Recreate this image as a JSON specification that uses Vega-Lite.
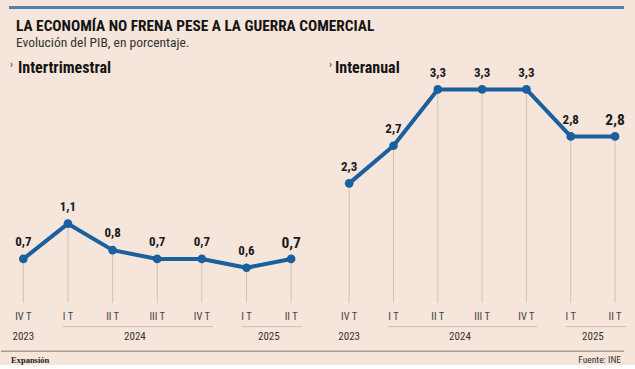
{
  "$schema": "https://vega.github.io/schema/vega-lite/v6.json",
  "background": "#f6e5da",
  "padding": 0,
  "config": {
    "view": {"stroke": null},
    "locale": {"number": {"decimal": ",", "thousands": ".", "grouping": [3], "currency": ["", " €"]}},
    "font": "Roboto Condensed, Roboto",
    "text": {"font": "Roboto Condensed, Roboto"}
  },
  "data": {"values": [
    {"i": 0, "trim": "IV T", "anio": "2023", "inter": 0.7, "anual": 2.3},
    {"i": 1, "trim": "I T", "anio": "2024", "inter": 1.1, "anual": 2.7},
    {"i": 2, "trim": "II T", "anio": "2024", "inter": 0.8, "anual": 3.3},
    {"i": 3, "trim": "III T", "anio": "2024", "inter": 0.7, "anual": 3.3},
    {"i": 4, "trim": "IV T", "anio": "2024", "inter": 0.7, "anual": 3.3},
    {"i": 5, "trim": "I T", "anio": "2025", "inter": 0.6, "anual": 2.8},
    {"i": 6, "trim": "II T", "anio": "2025", "inter": 0.7, "anual": 2.8}
  ]},
  "columns": 2,
  "spacing": {"row": 0, "column": 18},
  "bounds": "flush",
  "concat": [
    {
      "width": 308,
      "height": 80,
      "data": {"values": [{"titulo": "LA ECONOMÍA NO FRENA PESE A LA GUERRA COMERCIAL", "sub": "Evolución del PIB, en porcentaje.", "chev": "›", "panel": "Intertrimestral"}]},
      "layer": [
        {
          "mark": {"type": "rule", "color": "#5280ad", "strokeWidth": 3, "xOffset": 8, "x2Offset": 18},
          "encoding": {
            "x": {"datum": 0, "type": "quantitative", "scale": {"domain": [0, 1]}, "axis": null},
            "x2": {"datum": 1},
            "y": {"datum": "barra", "type": "ordinal", "scale": {"type": "point", "domain": ["barra", "titulo", "sub", "panel"], "padding": 0.4834, "align": 0.3846}, "axis": null}
          }
        },
        {
          "mark": {"type": "text", "align": "left", "baseline": "alphabetic", "dx": 15, "dy": 3, "fontSize": 15.3, "fontWeight": "bold", "color": "#141414"},
          "encoding": {
            "x": {"datum": 0, "type": "quantitative", "scale": {"domain": [0, 1]}, "axis": null},
            "y": {"datum": "titulo", "type": "ordinal", "scale": {"type": "point", "domain": ["barra", "titulo", "sub", "panel"], "padding": 0.4834, "align": 0.3846}, "axis": null},
            "text": {"field": "titulo"}
          }
        },
        {
          "mark": {"type": "text", "align": "left", "baseline": "alphabetic", "dx": 15, "dy": -1, "fontSize": 13.5, "color": "#333333"},
          "encoding": {
            "x": {"datum": 0, "type": "quantitative", "scale": {"domain": [0, 1]}, "axis": null},
            "y": {"datum": "sub", "type": "ordinal", "scale": {"type": "point", "domain": ["barra", "titulo", "sub", "panel"], "padding": 0.4834, "align": 0.3846}, "axis": null},
            "text": {"field": "sub"}
          }
        },
        {
          "mark": {"type": "text", "align": "left", "baseline": "alphabetic", "dx": 9, "dy": 0, "fontSize": 10.5, "fontWeight": "bold", "color": "#3d5f85"},
          "encoding": {
            "x": {"datum": 0, "type": "quantitative", "scale": {"domain": [0, 1]}, "axis": null},
            "y": {"datum": "panel", "type": "ordinal", "scale": {"type": "point", "domain": ["barra", "titulo", "sub", "panel"], "padding": 0.4834, "align": 0.3846}, "axis": null},
            "text": {"field": "chev"}
          }
        },
        {
          "mark": {"type": "text", "align": "left", "baseline": "alphabetic", "dx": 17, "dy": 5, "fontSize": 16, "fontWeight": "bold", "color": "#141414"},
          "encoding": {
            "x": {"datum": 0, "type": "quantitative", "scale": {"domain": [0, 1]}, "axis": null},
            "y": {"datum": "panel", "type": "ordinal", "scale": {"type": "point", "domain": ["barra", "titulo", "sub", "panel"], "padding": 0.4834, "align": 0.3846}, "axis": null},
            "text": {"field": "panel"}
          }
        }
      ]
    },
    {
      "width": 308,
      "height": 80,
      "data": {"values": [{"chev": "›", "panel": "Interanual"}]},
      "layer": [
        {
          "mark": {"type": "rule", "color": "#5280ad", "strokeWidth": 3, "x2Offset": -11},
          "encoding": {
            "x": {"datum": 0, "type": "quantitative", "scale": {"domain": [0, 1]}, "axis": null},
            "x2": {"datum": 1},
            "y": {"datum": "barra", "type": "ordinal", "scale": {"type": "point", "domain": ["barra", "titulo", "sub", "panel"], "padding": 0.4834, "align": 0.3846}, "axis": null}
          }
        },
        {
          "mark": {"type": "text", "align": "left", "baseline": "alphabetic", "dx": 2, "dy": 0, "fontSize": 10.5, "fontWeight": "bold", "color": "#3d5f85"},
          "encoding": {
            "x": {"datum": 0, "type": "quantitative", "scale": {"domain": [0, 1]}, "axis": null},
            "y": {"datum": "panel", "type": "ordinal", "scale": {"type": "point", "domain": ["barra", "titulo", "sub", "panel"], "padding": 0.4834, "align": 0.3846}, "axis": null},
            "text": {"field": "chev"}
          }
        },
        {
          "mark": {"type": "text", "align": "left", "baseline": "alphabetic", "dx": 8, "dy": 5, "fontSize": 16, "fontWeight": "bold", "color": "#141414"},
          "encoding": {
            "x": {"datum": 0, "type": "quantitative", "scale": {"domain": [0, 1]}, "axis": null},
            "y": {"datum": "panel", "type": "ordinal", "scale": {"type": "point", "domain": ["barra", "titulo", "sub", "panel"], "padding": 0.4834, "align": 0.3846}, "axis": null},
            "text": {"field": "panel"}
          }
        }
      ]
    },
    {
      "width": 308,
      "height": 223,
      "layer": [
        {
          "mark": {"type": "rule", "color": "#cfc2b6", "strokeWidth": 1},
          "encoding": {
            "x": {"field": "i", "type": "quantitative", "scale": {"domain": [-0.5, 6.4], "nice": false, "zero": false}, "axis": null},
            "y": {"field": "inter", "type": "quantitative", "scale": {"domain": [0.2, 2.73], "nice": false, "zero": false}, "axis": null},
            "y2": {"datum": 0.2}
          }
        },
        {
          "mark": {"type": "line", "color": "#1a5f9e", "strokeWidth": 4, "strokeJoin": "round", "point": {"filled": true, "size": 75, "color": "#1a5f9e", "opacity": 1}},
          "encoding": {
            "x": {"field": "i", "type": "quantitative", "scale": {"domain": [-0.5, 6.4], "nice": false, "zero": false}, "axis": null},
            "y": {"field": "inter", "type": "quantitative", "scale": {"domain": [0.2, 2.73], "nice": false, "zero": false}, "axis": null}
          }
        },
        {
          "transform": [{"filter": "datum.i != 6"}],
          "mark": {"type": "text", "fontWeight": "bold", "baseline": "alphabetic", "dy": -13, "fontSize": 13, "color": "#1a1a1a"},
          "encoding": {
            "x": {"field": "i", "type": "quantitative", "scale": {"domain": [-0.5, 6.4], "nice": false, "zero": false}, "axis": null},
            "y": {"field": "inter", "type": "quantitative", "scale": {"domain": [0.2, 2.73], "nice": false, "zero": false}, "axis": null},
            "text": {"field": "inter", "type": "quantitative", "format": ".1f"}
          }
        },
        {
          "transform": [{"filter": "datum.i == 6"}],
          "mark": {"type": "text", "fontWeight": "bold", "baseline": "alphabetic", "dy": -11, "fontSize": 15.5, "color": "#1a1a1a"},
          "encoding": {
            "x": {"field": "i", "type": "quantitative", "scale": {"domain": [-0.5, 6.4], "nice": false, "zero": false}, "axis": null},
            "y": {"field": "inter", "type": "quantitative", "scale": {"domain": [0.2, 2.73], "nice": false, "zero": false}, "axis": null},
            "text": {"field": "inter", "type": "quantitative", "format": ".1f"}
          }
        }
      ]
    },
    {
      "width": 308,
      "height": 223,
      "layer": [
        {
          "mark": {"type": "rule", "color": "#cfc2b6", "strokeWidth": 1},
          "encoding": {
            "x": {"field": "i", "type": "quantitative", "scale": {"domain": [-0.5, 6.45], "nice": false, "zero": false}, "axis": null},
            "y": {"field": "anual", "type": "quantitative", "scale": {"domain": [1.027, 3.4], "nice": false, "zero": false}, "axis": null},
            "y2": {"datum": 1.027}
          }
        },
        {
          "mark": {"type": "line", "color": "#1a5f9e", "strokeWidth": 4, "strokeJoin": "round", "point": {"filled": true, "size": 75, "color": "#1a5f9e", "opacity": 1}},
          "encoding": {
            "x": {"field": "i", "type": "quantitative", "scale": {"domain": [-0.5, 6.45], "nice": false, "zero": false}, "axis": null},
            "y": {"field": "anual", "type": "quantitative", "scale": {"domain": [1.027, 3.4], "nice": false, "zero": false}, "axis": null}
          }
        },
        {
          "transform": [{"filter": "datum.i != 6"}],
          "mark": {"type": "text", "fontWeight": "bold", "baseline": "alphabetic", "dy": -12.5, "fontSize": 13, "color": "#1a1a1a"},
          "encoding": {
            "x": {"field": "i", "type": "quantitative", "scale": {"domain": [-0.5, 6.45], "nice": false, "zero": false}, "axis": null},
            "y": {"field": "anual", "type": "quantitative", "scale": {"domain": [1.027, 3.4], "nice": false, "zero": false}, "axis": null},
            "text": {"field": "anual", "type": "quantitative", "format": ".1f"}
          }
        },
        {
          "transform": [{"filter": "datum.i == 6"}],
          "mark": {"type": "text", "fontWeight": "bold", "baseline": "alphabetic", "dy": -11, "fontSize": 15.5, "color": "#1a1a1a"},
          "encoding": {
            "x": {"field": "i", "type": "quantitative", "scale": {"domain": [-0.5, 6.45], "nice": false, "zero": false}, "axis": null},
            "y": {"field": "anual", "type": "quantitative", "scale": {"domain": [1.027, 3.4], "nice": false, "zero": false}, "axis": null},
            "text": {"field": "anual", "type": "quantitative", "format": ".1f"}
          }
        }
      ]
    },
    {
      "width": 308,
      "height": 60,
      "layer": [
        {
          "mark": {"type": "text", "fontSize": 10.5, "color": "#444444", "baseline": "middle"},
          "encoding": {
            "x": {"field": "i", "type": "quantitative", "scale": {"domain": [-0.5, 6.4], "nice": false, "zero": false}, "axis": null},
            "y": {"datum": "q", "type": "ordinal", "scale": {"type": "point", "domain": ["q", "l", "y", "f", "ft"], "padding": 1.4286, "align": 0.68}, "axis": null},
            "text": {"field": "trim"}
          }
        },
        {
          "transform": [
            {"filter": "datum.anio != '2023'"},
            {"aggregate": [{"op": "min", "field": "i", "as": "i0"}, {"op": "max", "field": "i", "as": "i1"}], "groupby": ["anio"]}
          ],
          "mark": {"type": "rule", "color": "#cbbfb3", "strokeWidth": 1, "xOffset": -5, "x2Offset": 11},
          "encoding": {
            "x": {"field": "i0", "type": "quantitative", "scale": {"domain": [-0.5, 6.4], "nice": false, "zero": false}, "axis": null},
            "x2": {"field": "i1"},
            "y": {"datum": "l", "type": "ordinal", "scale": {"type": "point", "domain": ["q", "l", "y", "f", "ft"], "padding": 1.4286, "align": 0.68}, "axis": null}
          }
        },
        {
          "transform": [{"aggregate": [{"op": "mean", "field": "i", "as": "im"}], "groupby": ["anio"]}],
          "mark": {"type": "text", "fontSize": 11, "color": "#333333", "baseline": "middle"},
          "encoding": {
            "x": {"field": "im", "type": "quantitative", "scale": {"domain": [-0.5, 6.4], "nice": false, "zero": false}, "axis": null},
            "y": {"datum": "y", "type": "ordinal", "scale": {"type": "point", "domain": ["q", "l", "y", "f", "ft"], "padding": 1.4286, "align": 0.68}, "axis": null},
            "text": {"field": "anio"}
          }
        },
        {
          "data": {"values": [{"marca": "Expansión"}]},
          "mark": {"type": "rule", "color": "#a99d92", "strokeWidth": 1.5, "x2Offset": 18, "yOffset": 4.75},
          "encoding": {
            "x": {"datum": -0.5, "type": "quantitative", "scale": {"domain": [-0.5, 6.4], "nice": false, "zero": false}, "axis": null},
            "x2": {"datum": 6.4},
            "y": {"datum": "f", "type": "ordinal", "scale": {"type": "point", "domain": ["q", "l", "y", "f", "ft"], "padding": 1.4286, "align": 0.68}, "axis": null}
          }
        },
        {
          "data": {"values": [{"marca": "Expansión"}]},
          "mark": {"type": "text", "align": "left", "baseline": "middle", "dx": 10, "dy": 3, "font": "Liberation Serif", "fontWeight": "bold", "fontSize": 8.5, "color": "#222222"},
          "encoding": {
            "x": {"datum": -0.5, "type": "quantitative", "scale": {"domain": [-0.5, 6.4], "nice": false, "zero": false}, "axis": null},
            "y": {"datum": "ft", "type": "ordinal", "scale": {"type": "point", "domain": ["q", "l", "y", "f", "ft"], "padding": 1.4286, "align": 0.68}, "axis": null},
            "text": {"field": "marca"}
          }
        }
      ]
    },
    {
      "width": 308,
      "height": 60,
      "layer": [
        {
          "mark": {"type": "text", "fontSize": 10.5, "color": "#444444", "baseline": "middle"},
          "encoding": {
            "x": {"field": "i", "type": "quantitative", "scale": {"domain": [-0.5, 6.45], "nice": false, "zero": false}, "axis": null},
            "y": {"datum": "q", "type": "ordinal", "scale": {"type": "point", "domain": ["q", "l", "y", "f", "ft"], "padding": 1.4286, "align": 0.68}, "axis": null},
            "text": {"field": "trim"}
          }
        },
        {
          "transform": [
            {"filter": "datum.anio != '2023'"},
            {"aggregate": [{"op": "min", "field": "i", "as": "i0"}, {"op": "max", "field": "i", "as": "i1"}], "groupby": ["anio"]}
          ],
          "mark": {"type": "rule", "color": "#cbbfb3", "strokeWidth": 1, "xOffset": -5, "x2Offset": 11},
          "encoding": {
            "x": {"field": "i0", "type": "quantitative", "scale": {"domain": [-0.5, 6.45], "nice": false, "zero": false}, "axis": null},
            "x2": {"field": "i1"},
            "y": {"datum": "l", "type": "ordinal", "scale": {"type": "point", "domain": ["q", "l", "y", "f", "ft"], "padding": 1.4286, "align": 0.68}, "axis": null}
          }
        },
        {
          "transform": [{"aggregate": [{"op": "mean", "field": "i", "as": "im"}], "groupby": ["anio"]}],
          "mark": {"type": "text", "fontSize": 11, "color": "#333333", "baseline": "middle"},
          "encoding": {
            "x": {"field": "im", "type": "quantitative", "scale": {"domain": [-0.5, 6.45], "nice": false, "zero": false}, "axis": null},
            "y": {"datum": "y", "type": "ordinal", "scale": {"type": "point", "domain": ["q", "l", "y", "f", "ft"], "padding": 1.4286, "align": 0.68}, "axis": null},
            "text": {"field": "anio"}
          }
        },
        {
          "data": {"values": [{"fuente": "Fuente: INE"}]},
          "mark": {"type": "rule", "color": "#a99d92", "strokeWidth": 1.5, "x2Offset": -11, "yOffset": 4.75},
          "encoding": {
            "x": {"datum": -0.5, "type": "quantitative", "scale": {"domain": [-0.5, 6.45], "nice": false, "zero": false}, "axis": null},
            "x2": {"datum": 6.45},
            "y": {"datum": "f", "type": "ordinal", "scale": {"type": "point", "domain": ["q", "l", "y", "f", "ft"], "padding": 1.4286, "align": 0.68}, "axis": null}
          }
        },
        {
          "data": {"values": [{"fuente": "Fuente: INE"}]},
          "mark": {"type": "text", "align": "right", "baseline": "middle", "dx": -14, "dy": 3, "fontSize": 9.5, "color": "#333333"},
          "encoding": {
            "x": {"datum": 6.45, "type": "quantitative", "scale": {"domain": [-0.5, 6.45], "nice": false, "zero": false}, "axis": null},
            "y": {"datum": "ft", "type": "ordinal", "scale": {"type": "point", "domain": ["q", "l", "y", "f", "ft"], "padding": 1.4286, "align": 0.68}, "axis": null},
            "text": {"field": "fuente"}
          }
        }
      ]
    }
  ]
}
